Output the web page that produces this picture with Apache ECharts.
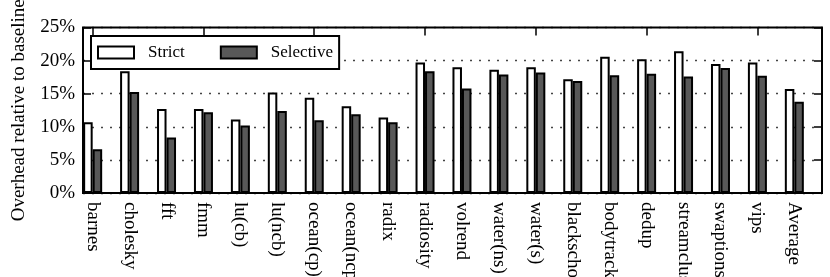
<!DOCTYPE html>
<html>
<head>
<meta charset="utf-8">
<script src="https://cdn.jsdelivr.net/npm/echarts@6/dist/echarts.min.js"></script>
<style>html,body{margin:0;padding:0;background:#fff;}#c{width:830px;height:277px;}</style>
</head>
<body>
<div id="c"></div>
<script>
const categories = ["barnes","cholesky","fft","fmm","lu(cb)","lu(ncb)","ocean(cp)","ocean(ncp)","radix","radiosity","volrend","water(ns)","water(s)","blackscholes","bodytrack","dedup","streamcluster","swaptions","vips","Average"];
const strictValues = [10.7,18.4,12.7,12.7,11.1,15.2,14.4,13.1,11.4,19.7,19.0,18.6,19.0,17.2,20.6,20.2,21.4,19.5,19.7,15.7];
const selectiveValues = [6.6,15.25,8.4,12.2,10.2,12.4,11.0,11.9,10.7,18.4,15.8,17.9,18.2,16.9,17.8,18.0,17.6,18.9,17.7,13.8];
const yTicks = [0,5,10,15,20,25];

const FONT = "Liberation Serif";
const chart = echarts.init(document.getElementById('c'), null, {renderer:'canvas'});
chart.setOption({
  animation: false,
  backgroundColor: '#fff',
  textStyle: {fontFamily: FONT, color: '#000'},
  grid: [
    {left: 74.2, right: 17.2, top: 27.5, bottom: 84, containLabel: false, outerBoundsMode: 'none'},
    {left: 83, right: 8, top: 27.5, bottom: 84, containLabel: false, outerBoundsMode: 'none', show: true, borderColor: '#000', borderWidth: 2, backgroundColor: 'transparent', z: 5}
  ],
  legend: {
    data: ['Strict','Selective'],
    icon: 'rect',
    left: 91, top: 36,
    orient: 'horizontal',
    backgroundColor: '#fff',
    borderColor: '#000', borderWidth: 2,
    padding: [8, 6, 8, 6],
    itemWidth: 36, itemHeight: 12, itemGap: 35,
    textStyle: {fontFamily: FONT, fontSize: 17, color: '#000', padding: [0,0,0,9]},
    z: 10
  },
  xAxis: [
    {type: 'category', gridIndex: 0, data: categories, position: 'bottom',
     axisLine: {show: false}, axisTick: {show: false},
     axisLabel: {rotate: -90, fontFamily: FONT, fontSize: 19, color: '#000', margin: 9, interval: 0}},
    {type: 'category', gridIndex: 0, data: categories, position: 'top',
     axisLine: {show: false},
     axisTick: {show: true, inside: true, alignWithLabel: true, length: 8, lineStyle: {color: '#000', width: 1.5}},
     axisLabel: {show: false}},
    {type: 'value', gridIndex: 1, show: false, min: 0, max: 1}
  ],
  yAxis: [
    {type: 'value', gridIndex: 0, min: yTicks[0], max: yTicks[yTicks.length-1], interval: 5, show: false},
    {type: 'value', gridIndex: 1, min: yTicks[0], max: yTicks[yTicks.length-1], interval: 5, position: 'left',
     name: 'Overhead relative to baseline', nameLocation: 'middle', nameGap: 54, nameRotate: 90,
     nameTextStyle: {fontFamily: FONT, fontSize: 19, color: '#000'},
     axisLine: {show: false},
     axisTick: {show: true, inside: true, length: 8, lineStyle: {color: '#000', width: 1.5}},
     axisLabel: {fontFamily: FONT, fontSize: 19, color: '#000', margin: 8, formatter: v => v + '%'},
     splitLine: {show: true, lineStyle: {color: '#444', width: 1.3, type: [2, 7]}}},
    {type: 'value', gridIndex: 1, min: yTicks[0], max: yTicks[yTicks.length-1], interval: 5, position: 'right',
     axisLine: {show: false},
     axisTick: {show: true, inside: true, length: 8, lineStyle: {color: '#000', width: 1.5}},
     axisLabel: {show: false}, splitLine: {show: false}}
  ],
  series: [
    {name: 'Strict', type: 'bar', xAxisIndex: 0, yAxisIndex: 0, data: strictValues,
     barWidth: 9.5, barGap: '0%',
     itemStyle: {color: '#fff', borderColor: '#000', borderWidth: 2}},
    {name: 'Selective', type: 'bar', xAxisIndex: 0, yAxisIndex: 0, data: selectiveValues,
     barWidth: 9.5, barGap: '0%',
     itemStyle: {color: '#585858', borderColor: '#000', borderWidth: 2}}
  ]
});
</script>
</body>
</html>
